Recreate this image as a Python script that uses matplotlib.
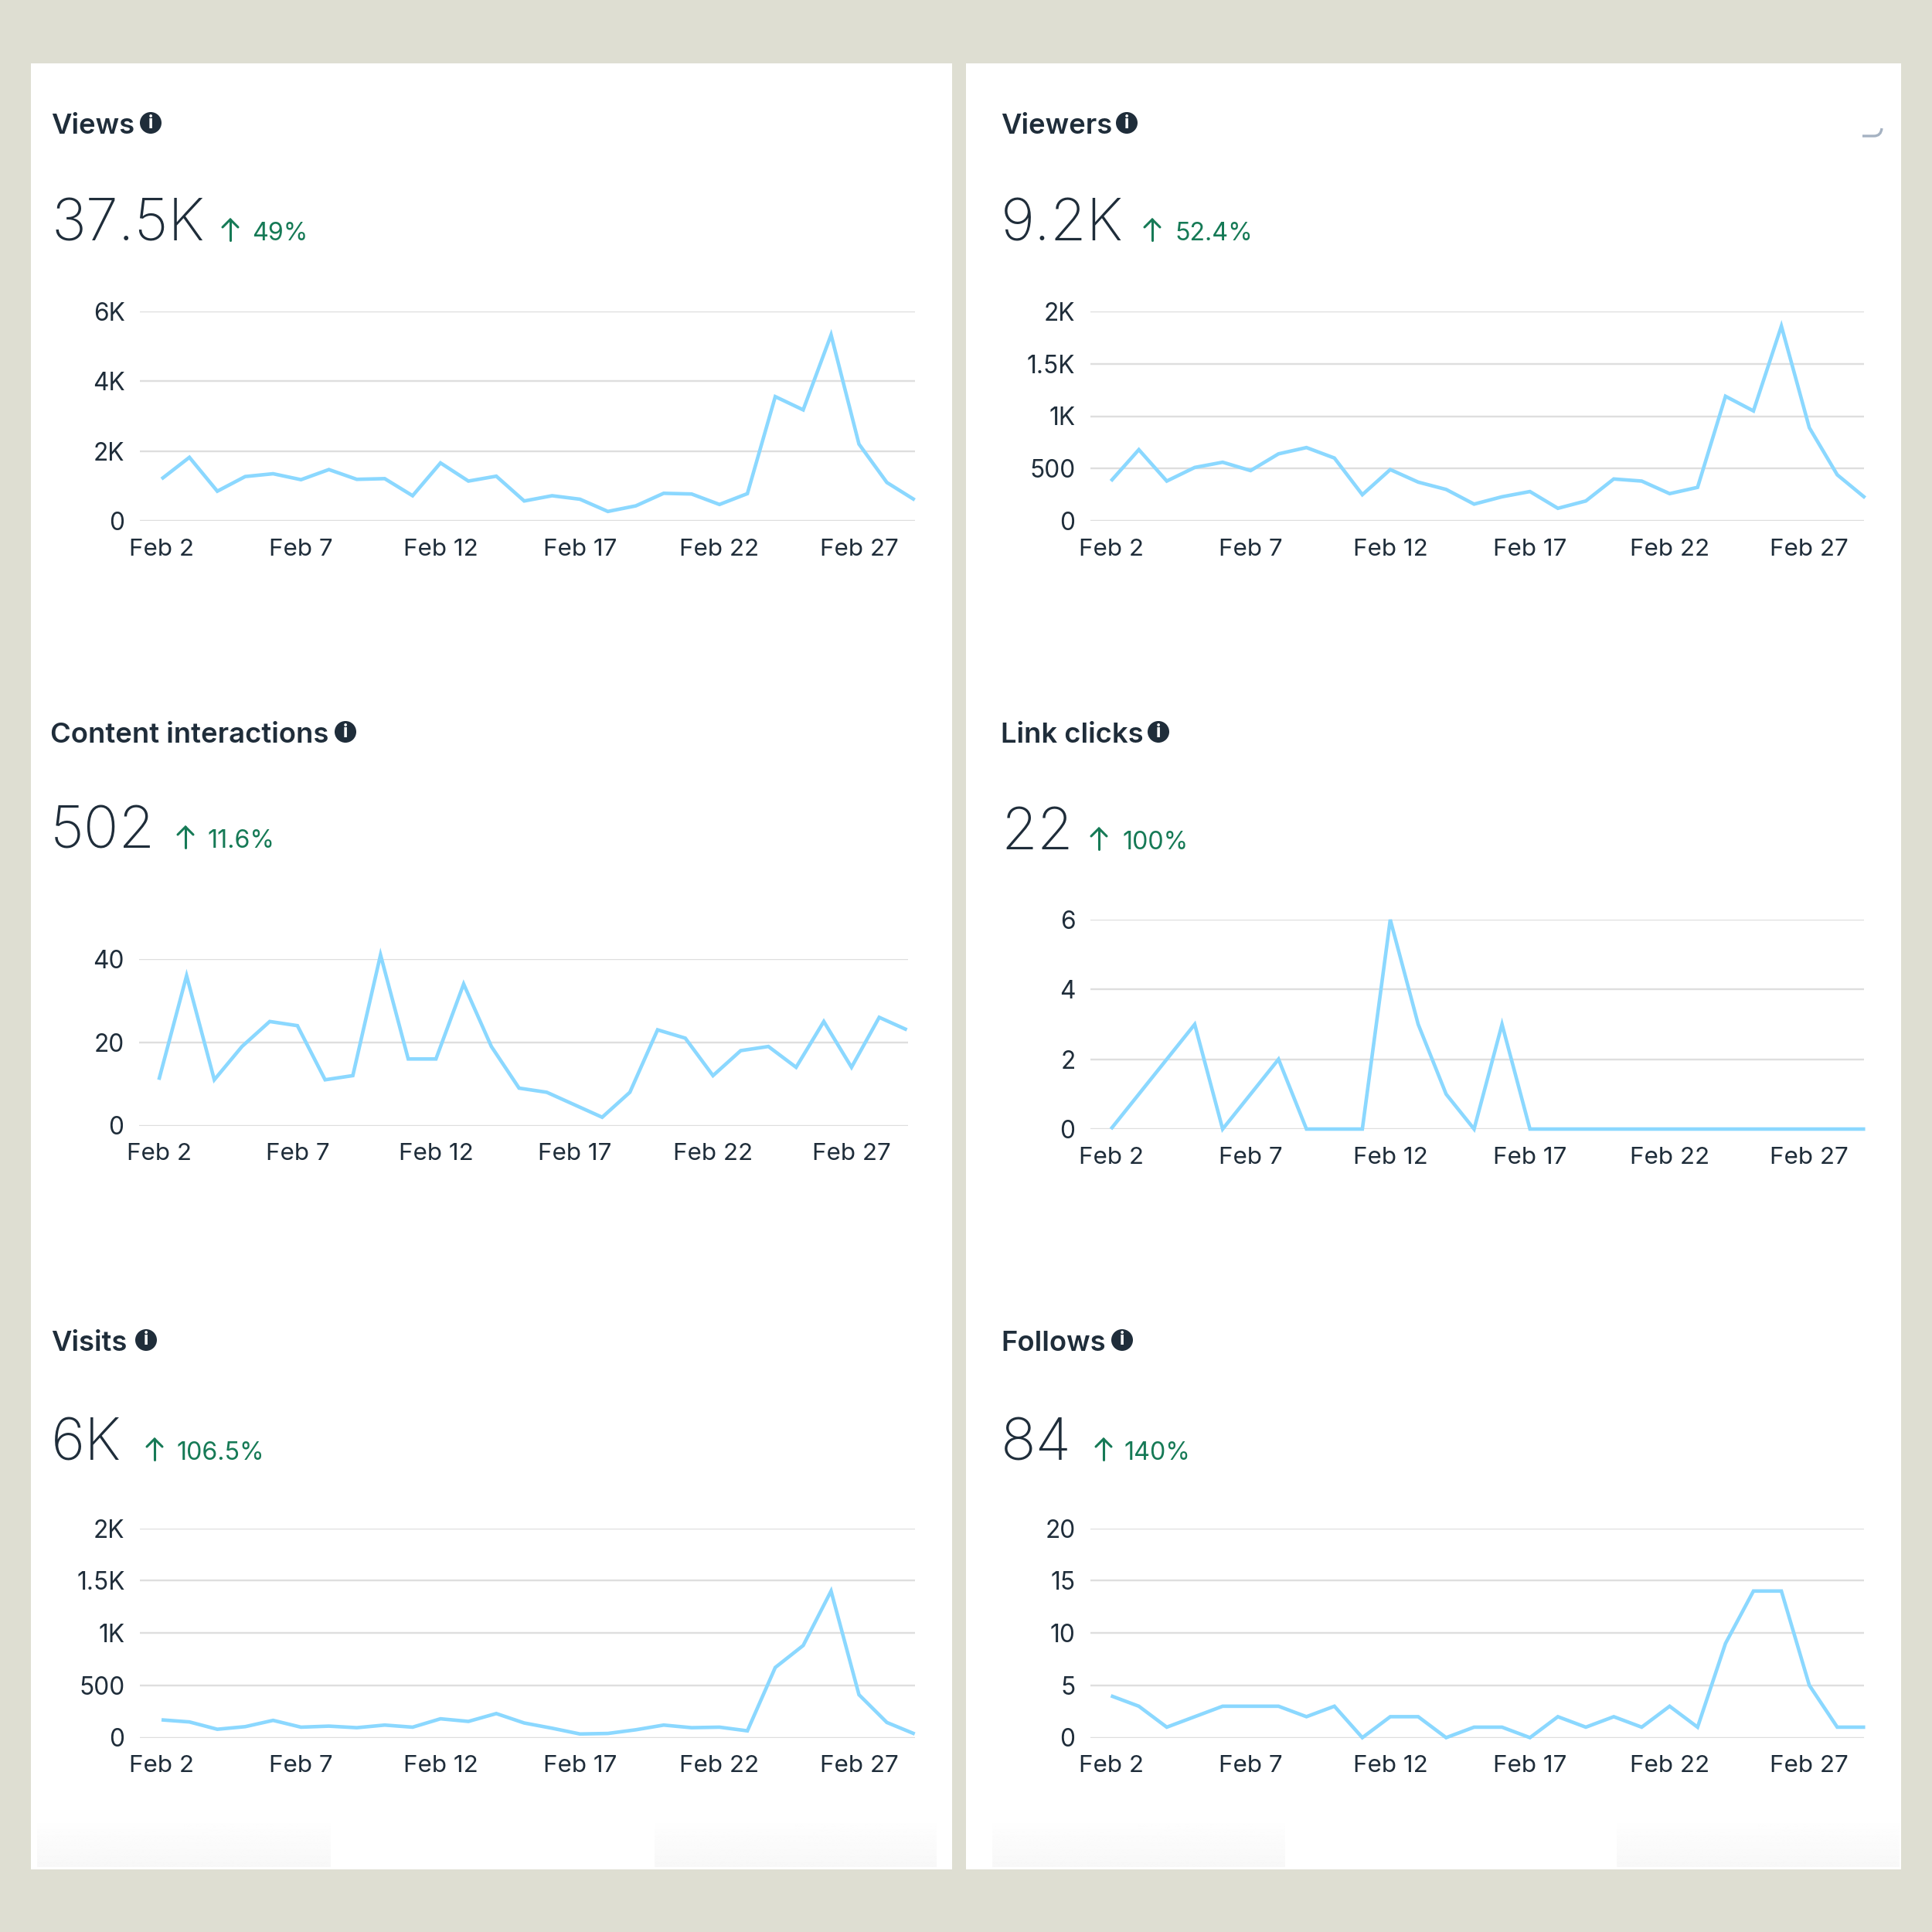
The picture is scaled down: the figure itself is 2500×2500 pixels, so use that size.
import numpy as np
import matplotlib
matplotlib.use("Agg")
import matplotlib.pyplot as plt
from matplotlib.patches import Rectangle, Circle, PathPatch
from matplotlib.path import Path
from matplotlib.transforms import ScaledTranslation

plt.rcParams['font.family'] = ['Inter', 'DejaVu Sans']

# ---- data ----
day_numbers = list(range(2, 30))
x_tick_days = [2, 7, 12, 17, 22, 27]
x_tick_labels = ['Feb 2', 'Feb 7', 'Feb 12', 'Feb 17', 'Feb 22', 'Feb 27']

views = [1200, 1820, 850, 1270, 1350, 1180, 1470, 1190, 1210, 720, 1660, 1140, 1280, 570,
         720, 620, 270, 430, 790, 770, 470, 780, 3560, 3180, 5330, 2200, 1100, 600]
viewers = [380, 680, 380, 510, 560, 480, 640, 700, 600, 250, 490, 370, 300, 160,
           230, 280, 120, 190, 400, 380, 260, 320, 1190, 1050, 1860, 890, 440, 220]
interactions = [11, 36, 11, 19, 25, 24, 11, 12, 41, 16, 16, 34, 19, 9,
                8, 5, 2, 8, 23, 21, 12, 18, 19, 14, 25, 14, 26, 23]
link_clicks = [0, 1, 2, 3, 0, 1, 2, 0, 0, 0, 6, 3, 1, 0,
               3, 0, 0, 0, 0, 0, 0, 0, 0, 0, 0, 0, 0, 0]
visits = [170, 150, 80, 105, 165, 100, 110, 95, 120, 100, 180, 155, 230, 140,
          90, 35, 40, 75, 120, 95, 100, 65, 670, 880, 1400, 410, 145, 35]
follows = [4, 3, 1, 2, 3, 3, 3, 2, 3, 0, 2, 2, 0, 1,
           1, 0, 2, 1, 2, 1, 3, 1, 9, 14, 14, 5, 1, 1]

titles = ['Views', 'Viewers', 'Content interactions', 'Link clicks', 'Visits', 'Follows']
totals = ['37.5K', '9.2K', '502', '22', '6K', '84']
changes = ['49%', '52.4%', '11.6%', '100%', '106.5%', '140%']
series = [views, viewers, interactions, link_clicks, visits, follows]
y_ticks = [[0, 2000, 4000, 6000], [0, 500, 1000, 1500, 2000], [0, 20, 40],
           [0, 2, 4, 6], [0, 500, 1000, 1500, 2000], [0, 5, 10, 15, 20]]
y_tick_labels = [['0', '2K', '4K', '6K'], ['0', '500', '1K', '1.5K', '2K'], ['0', '20', '40'],
                 ['0', '2', '4', '6'], ['0', '500', '1K', '1.5K', '2K'], ['0', '5', '10', '15', '20']]

# ---- layout (pixels) ----
# text_x, title_base, total_base, icon_x, arrow_x, delta_x
head = [(66, 173, 311, 195, 298, 326),
        (1295, 173, 311, 1458, 1491, 1520),
        (65, 961, 1097, 447, 240, 268),
        (1295, 961, 1099, 1499, 1422, 1452),
        (66, 1748, 1889, 189, 200, 229),
        (1295, 1748, 1889, 1452, 1428, 1455)]
# grid_left, grid_right, feb2_x, day_step, y_top, y_zero
plots = [(181, 1184, 209, 36.1, 403, 674),
         (1411, 2412, 1437.5, 36.15, 403, 674),
         (180, 1175, 205.6, 35.85, 1241, 1456.5),
         (1411, 2412, 1437.5, 36.15, 1190, 1461),
         (181, 1184, 209, 36.1, 1977.5, 2248.5),
         (1411, 2412, 1437.5, 36.15, 1977.5, 2248.5)]

BG = '#DEDED2'
INK = '#1F2D3A'
GREEN = '#167A56'
LINE = '#8BD8FF'
GRID = '#DEDEDE'
PX = 0.72  # points per pixel at dpi 100

fig = plt.figure(figsize=(25, 25), dpi=100, facecolor=BG)
bg = fig.add_axes([0, 0, 1, 1], zorder=0)
bg.axis('off')

bg.add_patch(Rectangle((40, 82), 1192, 2337, fc='white', ec='none'))
bg.add_patch(Rectangle((1250, 82), 1210, 2337, fc='white', ec='none'))

# faint fades at the bottom of the cards
grad = np.linspace(1, 0.97, 64)[:, None]
for x0, x1 in [(48, 428), (847, 1212), (1284, 1663), (2092, 2458)]:
    bg.imshow(grad, extent=(x0, x1, 2416, 2350), cmap='gray', vmin=0, vmax=1,
              aspect='auto', zorder=1)
bg.set_xlim(0, 2500)
bg.set_ylim(2500, 0)

# small corner mark in the Viewers card
bg.add_patch(PathPatch(Path([(2410, 176), (2425, 176), (2434, 176), (2435, 166)],
                            [Path.MOVETO, Path.LINETO, Path.CURVE3, Path.CURVE3]),
                       fc='none', ec='#A5B2C2', lw=2.4))

label_shift = ScaledTranslation(0, -3.5 / 100, fig.dpi_scale_trans)

for i in range(6):
    tx, tb, bb, ix, ax_, dx = head[i]
    bg.text(tx, tb, titles[i], fontsize=26.2, fontweight='semibold', color=INK, va='baseline', ha='left')
    bg.text(tx, bb, totals[i], fontsize=54.5, fontweight='light', color=INK, va='baseline', ha='left')
    bg.text(dx, bb, changes[i], fontsize=23.2, color=GREEN, va='baseline', ha='left')
    bg.add_patch(Circle((ix, tb - 14), 14, fc=INK, ec='none'))
    bg.text(ix, tb - 13.5, 'i', fontsize=17, fontweight='bold', color='white', ha='center', va='center')
    # arrow
    bg.plot([ax_, ax_], [bb - 27, bb], color=GREEN, lw=2.2, solid_capstyle='round')
    bg.plot([ax_ - 10, ax_, ax_ + 10], [bb - 17, bb - 27, bb - 17], color=GREEN, lw=2.2,
            solid_capstyle='round', solid_joinstyle='miter')

    gl, gr, f2, step, yt, y0 = plots[i]
    ax = fig.add_axes([gl / 2500, 1 - y0 / 2500, (gr - gl) / 2500, (y0 - yt) / 2500], zorder=2)
    ax.patch.set_alpha(0)
    ax.set_xlim(2 + (gl - f2) / step, 2 + (gr - f2) / step)
    ax.set_ylim(0, y_ticks[i][-1])
    for s in ax.spines.values():
        s.set_visible(False)
    ax.set_yticks(y_ticks[i])
    ax.set_yticklabels(y_tick_labels[i])
    ax.set_xticks(x_tick_days)
    ax.set_xticklabels(x_tick_labels)
    ax.tick_params(axis='y', length=0, pad=19.5 * PX, labelsize=22.8, labelcolor=INK)
    ax.tick_params(axis='x', length=0, pad=22.5 * PX, labelsize=22.6, labelcolor=INK)
    for lab in ax.get_yticklabels():
        lab.set_verticalalignment('center')
        lab.set_transform(lab.get_transform() + label_shift)
    ax.yaxis.grid(True, color=GRID, lw=2.4 * PX)
    ax.set_axisbelow(True)
    ax.plot(day_numbers, series[i], color=LINE, lw=4.6 * PX, clip_on=False,
            solid_joinstyle='miter', solid_capstyle='butt', zorder=3)

fig.savefig('out.png', dpi=100, facecolor=BG)
